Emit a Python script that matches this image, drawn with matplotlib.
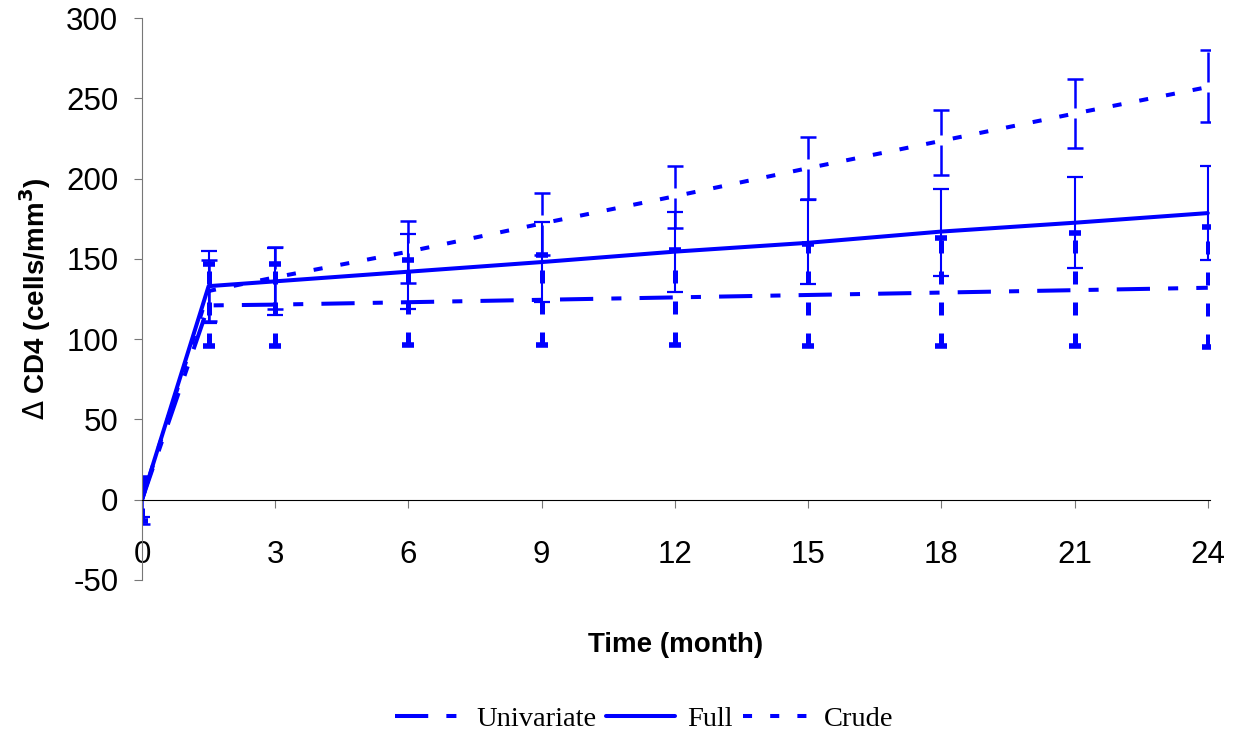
import matplotlib
matplotlib.use("Agg")
import matplotlib.pyplot as plt

# values
months = [0, 1.5, 3, 6, 9, 12, 15, 18, 21, 24]

univariate = [0, 121, 121.5, 123, 124.5, 126, 127.5, 129, 130.5, 132]
univariate_lo = [-13, 96, 96, 96.5, 96.5, 96.5, 96, 96, 95.5, 95]
univariate_hi = [13, 147, 147, 149.5, 152.5, 155.5, 159, 163, 166, 170]

full = [0, 133, 136, 142, 148, 154.5, 160, 167, 172.5, 178.5]
full_lo = [-11, 110, 115, 119, 123, 129.5, 134.5, 139.5, 144.5, 149]
full_hi = [11, 155, 157, 165.5, 173, 179, 186.5, 193.5, 201, 208]

crude = [0, 130, 138.5, 154.5, 172, 189, 206.5, 223.5, 240.5, 257]
crude_lo = [-15, 111, 118.5, 135, 152.5, 169.5, 187, 202, 219, 235]
crude_hi = [15, 149, 157.5, 173.5, 191, 208, 226, 243, 262, 280]

x_ticks = [0, 3, 6, 9, 12, 15, 18, 21, 24]
y_ticks = [-50, 0, 50, 100, 150, 200, 250, 300]

BLUE = "#0000FF"
plt.rcParams["font.family"] = ["Liberation Sans", "DejaVu Sans"]
plt.rcParams["axes.unicode_minus"] = False


def yerr(mid, lo, hi):
    return [[m - l for m, l in zip(mid, lo)], [h - m for m, h in zip(mid, hi)]]


fig = plt.figure(figsize=(12.39, 7.35), dpi=100)
ax = fig.add_axes([0.1146, 0.2109, 0.862, 0.7646])

# error bars
eb = ax.errorbar(months, univariate, yerr=yerr(univariate, univariate_lo, univariate_hi),
                 fmt="none", ecolor=BLUE, elinewidth=3.6, capsize=4, capthick=4)
eb[2][0].set_linestyle((0, (2.6, 3.6)))

eb = ax.errorbar(months, full, yerr=yerr(full, full_lo, full_hi),
                 fmt="none", ecolor=BLUE, elinewidth=1.5, capsize=6, capthick=1.6)

eb = ax.errorbar(months, crude, yerr=yerr(crude, crude_lo, crude_hi),
                 fmt="none", ecolor=BLUE, elinewidth=1.8, capsize=6, capthick=1.8)
eb[2][0].set_linestyle((0, (12, 4)))

# series lines
ax.plot(months, univariate, color=BLUE, lw=2.9, dashes=(8.25, 4.5, 2.5, 4.5),
        label="Univariate")
ax.plot(months, full, color=BLUE, lw=2.9, solid_capstyle="round", label="Full")
ax.plot(months, crude, color=BLUE, lw=2.9, dashes=(2.25, 4.5), label="Crude")

ax.set_xlim(0, 24.05)
ax.set_ylim(-50, 300)
ax.set_xticks(x_ticks)
ax.set_yticks(y_ticks)
ax.tick_params(axis="both", labelsize=22.5, colors="#000000")
ax.tick_params(axis="y", length=6, pad=11, color="#777777")
ax.tick_params(axis="x", length=6, pad=23, color="#777777")

ax.spines["top"].set_visible(False)
ax.spines["right"].set_visible(False)
ax.spines["bottom"].set_position(("data", 0))
ax.spines["bottom"].set_color("#000000")
ax.spines["left"].set_color("#777777")

ax.set_xlabel("Time (month)", fontsize=20, fontweight="bold")
ax.xaxis.set_label_coords(0.5, -0.093)
ax.set_ylabel(r"$\Delta$ CD4 (cells/mm$^\mathbf{3}$)", fontsize=20, fontweight="bold")
ax.yaxis.set_label_coords(-0.083, 0.5)

fig.legend(loc="center", bbox_to_anchor=(0.52, 0.022), ncol=3, frameon=False,
           prop={"family": "Liberation Serif", "size": 20.5},
           handlelength=2.4, handletextpad=0.45, columnspacing=0.35)

fig.savefig("out.png", dpi=100)
